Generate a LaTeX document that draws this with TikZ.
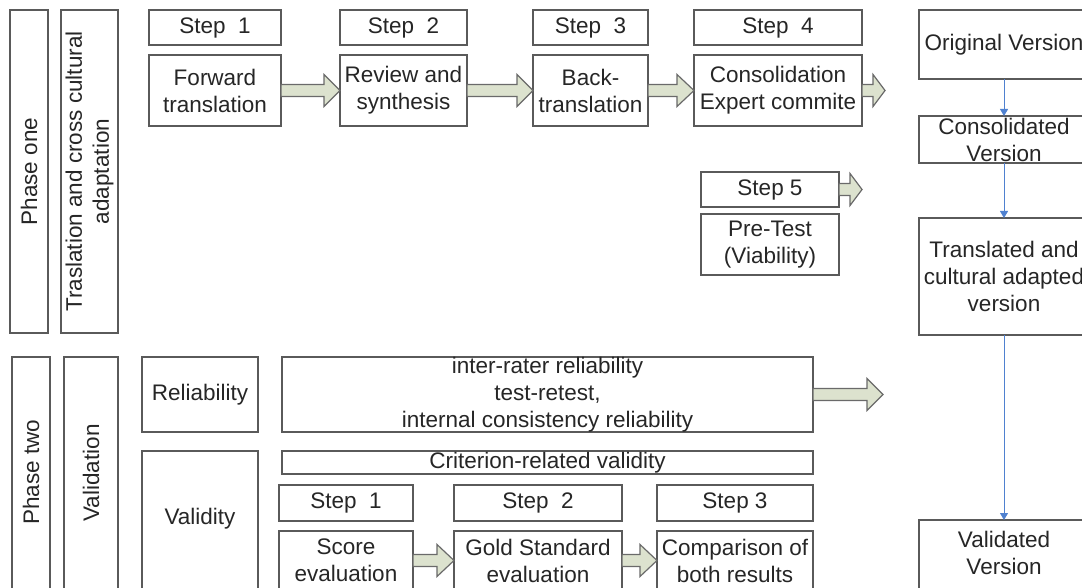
\documentclass[tikz,border=0pt]{standalone}
\usepackage{fontspec}
\setmainfont{Liberation Sans}
\usetikzlibrary{calc,arrows.meta}

\definecolor{boxline}{HTML}{5A5A5A}
\definecolor{inktext}{HTML}{262626}
\definecolor{arrowfill}{HTML}{DCE2CE}
\definecolor{arrowline}{HTML}{6A6A6A}
\definecolor{flowblue}{HTML}{4F81D0}

\tikzset{
  panel/.style={draw=boxline, line width=1.3pt, fill=white, inner sep=0pt, outer sep=0pt},
  txt/.style={text=inktext, align=center, inner sep=0pt, font=\fontsize{22.5}{27}\selectfont},
  blockarrow/.style={draw=arrowline, fill=arrowfill, line width=1.2pt, line join=miter},
  flow/.style={draw=flowblue, line width=1pt, -{Triangle[width=8pt,length=7pt]}},
}

% a framed box given by its left, top, right and bottom edges
\newcommand\panelbox[5]{%
  \node[panel, minimum width={(#4)-(#2)}, minimum height={(#5)-(#3)}]
    (#1) at ({((#2)+(#4))/2},{((#3)+(#5))/2}) {};}

% a wide hollow arrow from #1 to the tip #2, head length #3
\newcommand\fatarrow[3]{%
  \draw[blockarrow] ($(#1)+(0pt,6pt)$) -- ($(#2)+(-#3pt,6pt)$) -- ($(#2)+(-#3pt,16pt)$)
    -- (#2) -- ($(#2)+(-#3pt,-16pt)$) -- ($(#2)+(-#3pt,-6pt)$) -- ($(#1)+(0pt,-6pt)$) -- cycle;}

\begin{document}
\begin{tikzpicture}[x=1pt,y=-1pt]
\useasboundingbox (0,0) rectangle (1082,588);
\fill[white] (0,0) rectangle (1082,588);
\clip (0,0) rectangle (1082,588);

% ---------- phase one ----------
\panelbox{p1}{10}{10}{48}{333}
\node[txt, rotate=90] (p1-t) at (p1.center) {Phase one};
\panelbox{tca}{61}{10}{118}{333}
\node[txt, rotate=90] (tca-t) at (tca.center) {Traslation and cross cultural\\adaptation};

\panelbox{st1}{149}{10}{281}{45}
\node[txt] (st1-t) at (st1.center) {Step\ \ 1};
\panelbox{fwd}{149}{55}{281}{126}
\node[txt] (fwd-t) at (fwd.center) {Forward\\translation};

\panelbox{st2}{340}{10}{467}{45}
\node[txt] (st2-t) at (st2.center) {Step\ \ 2};
\panelbox{rev}{340}{55}{467}{126}
\node[txt] (rev-t) at (rev.center) {Review and\\synthesis};

\panelbox{st3}{533}{10}{648}{45}
\node[txt] (st3-t) at (st3.center) {Step\ \ 3};
\panelbox{back}{533}{55}{648}{126}
\node[txt] (back-t) at (back.center) {Back-\\translation};

\panelbox{st4}{694}{10}{862}{45}
\node[txt] (st4-t) at (st4.center) {Step\ \ 4};
\panelbox{cons}{694}{55}{862}{126}
\node[txt] (cons-t) at (cons.center) {Consolidation\\Expert commite};

\panelbox{st5}{701}{172}{839}{207}
\node[txt] (st5-t) at (st5.center) {Step 5};
\panelbox{pre}{701}{214}{839}{275}
\node[txt] (pre-t) at (pre.center) {Pre-Test\\(Viability)};

\fatarrow{fwd.east}{rev.west}{16}
\fatarrow{rev.east}{back.west}{16}
\fatarrow{back.east}{cons.west}{17}
\coordinate (constip) at (885,90.5);
\fatarrow{cons.east}{constip}{12}
\coordinate (pretip) at (862,189.5);
\fatarrow{st5.east}{pretip}{12}

% ---------- versions column ----------
\panelbox{orig}{919}{10}{1089}{79}
\node[txt] (orig-t) at (orig.center) {Original Version};
\panelbox{consv}{919}{116}{1089}{163}
\node[txt] (consv-t) at (consv.center) {Consolidated\\Version};
\panelbox{trans}{919}{218}{1089}{335}
\node[txt] (trans-t) at (trans.center) {Translated and\\cultural adapted\\version};
\panelbox{valid}{919}{520}{1089}{600}
\node[txt] (valid-t) at (1004,553) {Validated\\Version};

\draw[flow] (orig.south) -- (consv.north);
\draw[flow] (consv.south) -- (trans.north);
\draw[flow] (trans.south) -- (valid.north);

% ---------- phase two ----------
\panelbox{p2}{12}{357}{50}{600}
\node[txt, rotate=90] (p2-t) at (31,472) {Phase two};
\panelbox{val}{64}{357}{118}{600}
\node[txt, rotate=90] (val-t) at (91,473) {Validation};

\panelbox{rel}{142}{357}{258}{432}
\node[txt] (rel-t) at (rel.center) {Reliability};
\panelbox{vty}{142}{451}{258}{600}
\node[txt] (vty-t) at (200,519) {Validity};

\panelbox{reld}{282}{357}{813}{432}
\node[txt] (reld-t) at (reld.center) {inter-rater reliability\\test-retest,\\internal consistency reliability};
\coordinate (reltip) at (883,394.5);
\fatarrow{reld.east}{reltip}{16}

\panelbox{crit}{282}{451}{813}{474}
\node[txt] (crit-t) at (crit.center) {Criterion-related validity};

\panelbox{vs1}{279}{485}{413}{521}
\node[txt] (vs1-t) at (vs1.center) {Step\ \ 1};
\panelbox{score}{279}{531}{413}{590}
\node[txt] (score-t) at (score.center) {Score\\evaluation};

\panelbox{vs2}{454}{485}{622}{521}
\node[txt] (vs2-t) at (vs2.center) {Step\ \ 2};
\panelbox{gold}{454}{531}{622}{590}
\node[txt] (gold-t) at (gold.center) {Gold Standard\\evaluation};

\panelbox{vs3}{657}{485}{813}{521}
\node[txt] (vs3-t) at (vs3.center) {Step 3};
\panelbox{comp}{657}{531}{813}{590}
\node[txt] (comp-t) at (comp.center) {Comparison of\\both results};

\fatarrow{score.east}{gold.west}{17}
\fatarrow{gold.east}{comp.west}{17}
\end{tikzpicture}
\end{document}
